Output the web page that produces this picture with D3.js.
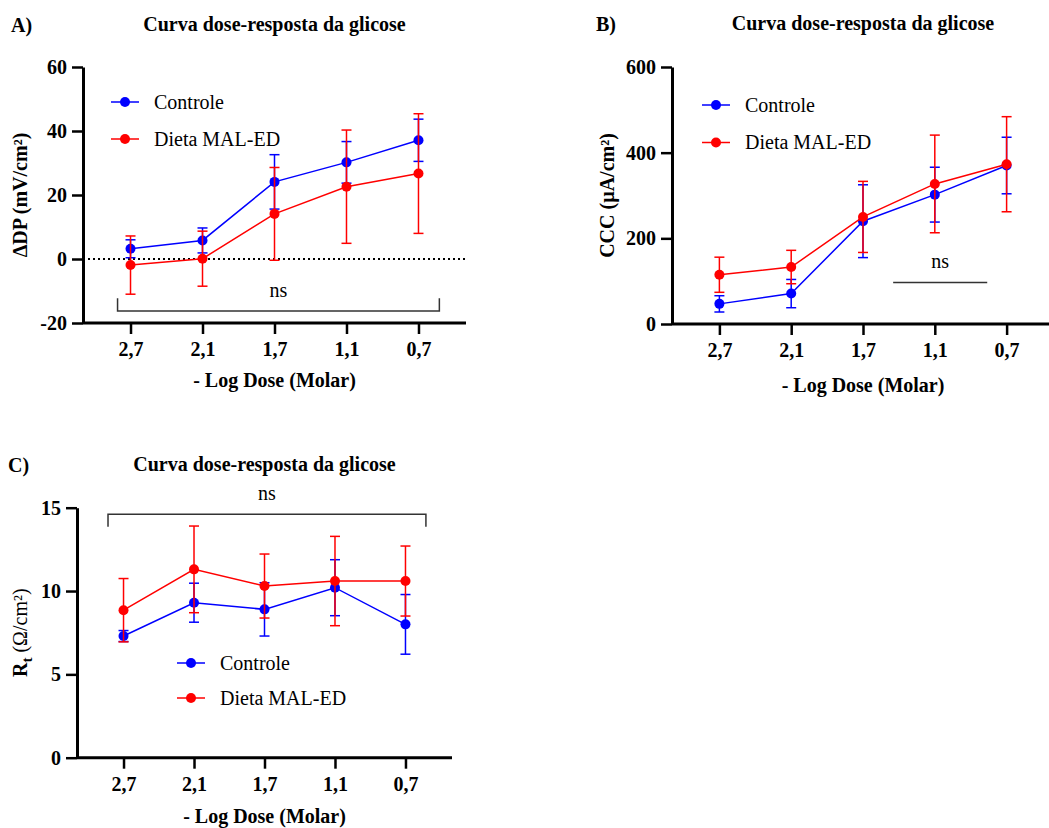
<!DOCTYPE html>
<html>
<head>
<meta charset="utf-8">
<script src="https://cdn.jsdelivr.net/npm/d3@7"></script>
<style>
  body { margin: 0; background: #fff; }
</style>
</head>
<body>
<div class="canva"></div>
<script>
// data
const doses = ['2,7', '2,1', '1,7', '1,1', '0,7']
const seriesNames = ['Controle', 'Dieta MAL-ED']
const seriesColors = ['#0000ff', '#ff0000']

// A) delta DP
const dpControle = [3.2, 5.8, 24.1, 30.2, 37.1]
const dpControleErr = [2.8, 3.9, 8.5, 6.5, 6.6]
const dpDieta = [-1.9, 0.1, 14.1, 22.6, 26.7]
const dpDietaErr = [9.1, 8.6, 14.5, 17.7, 18.7]
const dpTicks = [-20, 0, 20, 40, 60]

// B) CCC
const cccControle = [47, 71, 240, 302, 370]
const cccControleErr = [19, 33, 85, 64, 66]
const cccDieta = [115, 133, 250, 327, 373]
const cccDietaErr = [41, 39, 83, 114, 111]
const cccTicks = [0, 200, 400, 600]

// C) Rt
const rtControle = [7.3, 9.3, 8.9, 10.2, 8.0]
const rtControleErr = [0.33, 1.17, 1.6, 1.68, 1.79]
const rtDieta = [8.85, 11.3, 10.3, 10.6, 10.6]
const rtDietaErr = [1.9, 2.6, 1.92, 2.68, 2.1]
const rtTicks = [0, 5, 10, 15]

const serif = '"Liberation Serif"'

const canvas = d3.select('.canva')
const svg = canvas.append('svg')
    .attr('width', 1049)
    .attr('height', 828)

function label(sel, txt, size, bold) {
    return sel.append('text')
        .text(txt)
        .attr('font-size', size)
        .attr('font-weight', bold ? 'bold' : 'normal')
        .style('font-family', serif)
}

function drawPanel(p) {
    const g = svg.append('g')

    const x = d3.scalePoint()
        .domain(doses)
        .range([p.left, p.right])
        .padding(0.66)
    const y = d3.scaleLinear()
        .domain([p.ticks[0], p.ticks[p.ticks.length - 1]])
        .range([p.bottom, p.top])

    // zero line (panel A)
    if (p.zeroLine) {
        g.append('line')
            .attr('x1', p.left).attr('x2', p.right)
            .attr('y1', y(0)).attr('y2', y(0))
            .attr('stroke', '#000')
            .attr('stroke-width', 2)
            .attr('stroke-dasharray', '2,3')
    }

    // y axis
    const ya = g.append('g')
        .attr('transform', `translate(${p.left},0)`)
        .call(d3.axisLeft(y).tickValues(p.ticks).tickSize(11).tickSizeOuter(0).tickPadding(5).tickFormat(d => String(d)))
    ya.attr('font-family', serif)
    ya.select('.domain').attr('stroke-width', 3)
    ya.selectAll('.tick line').attr('stroke-width', 2.5)
    ya.selectAll('.tick text')
        .attr('font-size', 20).attr('font-weight', 'bold').attr('fill', '#000')
        .style('font-family', serif)

    // x axis
    const xa = g.append('g')
        .attr('transform', `translate(0,${p.bottom})`)
        .call(d3.axisBottom(x).tickSize(11).tickSizeOuter(0).tickPadding(8))
    xa.attr('font-family', serif)
    xa.select('.domain').attr('d', `M${p.left},0H${p.right}`).attr('stroke-width', 3)
    xa.selectAll('.tick line').attr('stroke-width', 2.5)
    xa.selectAll('.tick text')
        .attr('font-size', 20).attr('font-weight', 'bold').attr('fill', '#000')
        .style('font-family', serif)

    // series
    const series = [
        {vals: p.controle, err: p.controleErr, color: seriesColors[0]},
        {vals: p.dieta, err: p.dietaErr, color: seriesColors[1]}
    ]
    const line = d3.line()
        .x((d, i) => x(doses[i]))
        .y(d => y(d))

    series.forEach(s => {
        const sg = g.append('g')
        const bars = sg.selectAll('g.err')
            .data(s.vals)
            .enter().append('g')
        bars.append('line')
            .attr('x1', (d, i) => x(doses[i])).attr('x2', (d, i) => x(doses[i]))
            .attr('y1', (d, i) => y(d - s.err[i])).attr('y2', (d, i) => y(d + s.err[i]))
            .attr('stroke', s.color).attr('stroke-width', 1.5)
        bars.append('line')
            .attr('x1', (d, i) => x(doses[i]) - 5).attr('x2', (d, i) => x(doses[i]) + 5)
            .attr('y1', (d, i) => y(d + s.err[i])).attr('y2', (d, i) => y(d + s.err[i]))
            .attr('stroke', s.color).attr('stroke-width', 1.5)
        bars.append('line')
            .attr('x1', (d, i) => x(doses[i]) - 5).attr('x2', (d, i) => x(doses[i]) + 5)
            .attr('y1', (d, i) => y(d - s.err[i])).attr('y2', (d, i) => y(d - s.err[i]))
            .attr('stroke', s.color).attr('stroke-width', 1.5)
        sg.append('path')
            .attr('d', line(s.vals))
            .attr('fill', 'none')
            .attr('stroke', s.color)
            .attr('stroke-width', 1.5)
        sg.selectAll('circle')
            .data(s.vals)
            .enter().append('circle')
            .attr('cx', (d, i) => x(doses[i]))
            .attr('cy', d => y(d))
            .attr('r', 5)
            .attr('fill', s.color)
    })

    // legend
    seriesNames.forEach((name, i) => {
        const ly = p.legendY + i * p.legendGap
        g.append('line')
            .attr('x1', p.legendX).attr('x2', p.legendX + 28)
            .attr('y1', ly).attr('y2', ly)
            .attr('stroke', seriesColors[i]).attr('stroke-width', 1.5)
        g.append('circle')
            .attr('cx', p.legendX + 14).attr('cy', ly).attr('r', 5)
            .attr('fill', seriesColors[i])
        label(g, name, 20, false)
            .attr('x', p.legendX + 43).attr('y', ly + 6.5)
    })

    // significance marker
    const ns = p.ns
    const bx1 = x(doses[0]) + ns.x1 * x.step()
    const bx2 = x(doses[4]) + ns.x2 * x.step()
    let d = `M${bx1},${y(ns.y)}H${bx2}`
    if (ns.tip) d = `M${bx1},${y(ns.y + ns.tip)}V${y(ns.y)}H${bx2}V${y(ns.y + ns.tip)}`
    g.append('path')
        .attr('d', d)
        .attr('fill', 'none')
        .attr('stroke', '#333')
        .attr('stroke-width', 1.5)
    label(g, 'ns', 20, false)
        .attr('x', (bx1 + bx2) / 2)
        .attr('y', y(ns.y) + ns.textDy)
        .attr('text-anchor', 'middle')

    const cx = (x(doses[0]) + x(doses[4])) / 2

    // title and letter
    label(g, 'Curva dose-resposta da glicose', 20, true)
        .attr('x', cx).attr('y', p.titleY)
        .attr('text-anchor', 'middle')
    label(g, p.letter, 20, true)
        .attr('x', p.letterX).attr('y', p.titleY + 1)

    // x title
    label(g, '- Log Dose (Molar)', 20, true)
        .attr('x', cx).attr('y', p.xLabelY)
        .attr('text-anchor', 'middle')

    // y title
    const yt = label(g, null, 20, true)
        .attr('transform', `translate(${p.yLabelX},${(p.top + p.bottom) / 2}) rotate(-90)`)
        .attr('text-anchor', 'middle')
    p.yLabel(yt)
}

drawPanel({
    letter: 'A)', letterX: 11, titleY: 31,
    left: 83, right: 466, top: 67, bottom: 323,
    ticks: dpTicks, zeroLine: true,
    controle: dpControle, controleErr: dpControleErr,
    dieta: dpDieta, dietaErr: dpDietaErr,
    legendX: 111, legendY: 102, legendGap: 37,
    ns: {x1: -0.18, x2: 0.29, y: -16.25, tip: 4, textDy: -14},
    xLabelY: 387, yLabelX: 27,
    yLabel: t => t.text('ΔDP (mV/cm²)')
})

drawPanel({
    letter: 'B)', letterX: 596, titleY: 30,
    left: 672, right: 1054, top: 67, bottom: 324,
    ticks: cccTicks, zeroLine: false,
    controle: cccControle, controleErr: cccControleErr,
    dieta: cccDieta, dietaErr: cccDietaErr,
    legendX: 702, legendY: 105, legendGap: 37.5,
    ns: {x1: 2.42, x2: -0.27, y: 97, tip: 0, textDy: -14},
    xLabelY: 392, yLabelX: 614,
    yLabel: t => t.text('CCC (µA/cm²)')
})

drawPanel({
    letter: 'C)', letterX: 8, titleY: 471,
    left: 77, right: 452, top: 507.7, bottom: 757.7,
    ticks: rtTicks, zeroLine: false,
    controle: rtControle, controleErr: rtControleErr,
    dieta: rtDieta, dietaErr: rtDietaErr,
    legendX: 177, legendY: 663, legendGap: 35,
    ns: {x1: -0.22, x2: 0.29, y: 14.6, tip: -0.75, textDy: -14},
    xLabelY: 823, yLabelX: 27,
    yLabel: t => {
        t.append('tspan').text('R')
        t.append('tspan').text('t').attr('dy', 5).attr('font-size', 15)
        t.append('tspan').text(' (Ω/cm²)').attr('dy', -5).attr('font-weight', 'normal')
    }
})
</script>
</body>
</html>
